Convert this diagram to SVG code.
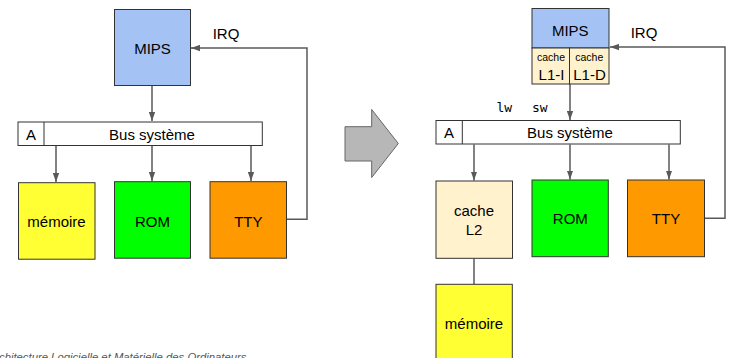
<svg xmlns="http://www.w3.org/2000/svg" width="730" height="358" viewBox="0 0 730 358">
<style>
.box{stroke:#333;stroke-width:1}
.t{font-family:"Liberation Sans",Arial,sans-serif;font-size:15px;fill:#000;text-anchor:middle}
.s{font-family:"Liberation Sans",Arial,sans-serif;font-size:10.5px;fill:#000;text-anchor:middle}
.m{font-family:"DejaVu Sans Mono",monospace;font-size:13px;fill:#000}
.c{fill:none;stroke:#595959;stroke-width:1.5}
.cpu{fill:#a4c2f4}.cache{fill:#fff2cc}.rom{fill:#00ff00}.tty{fill:#ff9900}.mem{fill:#ffff33}.bus{fill:#fff}
.foot{font-family:"Liberation Sans",Arial,sans-serif;font-size:11.3px;font-style:italic;fill:#555}
</style>
<defs>
<marker id="ah" viewBox="0 0 10 7" refX="10" refY="3.5" markerWidth="9" markerHeight="7" markerUnits="userSpaceOnUse" orient="auto">
<path d="M0,0 L10,3.5 L0,7 z" fill="#595959"/>
</marker>
</defs>
<g id="connectors">
<line class="c" x1="152" y1="86" x2="152" y2="121" marker-end="url(#ah)"/>
<line class="c" x1="56" y1="146" x2="56" y2="182" marker-end="url(#ah)"/>
<line class="c" x1="152" y1="146" x2="152" y2="181" marker-end="url(#ah)"/>
<line class="c" x1="251" y1="146" x2="251" y2="181" marker-end="url(#ah)"/>
<polyline class="c" points="287,219.3 307,219.3 307,48 191,48" marker-end="url(#ah)"/>
<line class="c" x1="570" y1="84" x2="570" y2="120" marker-end="url(#ah)"/>
<line class="c" x1="474" y1="144.5" x2="474" y2="180.5" marker-end="url(#ah)"/>
<line class="c" x1="570" y1="144.5" x2="570" y2="179.5" marker-end="url(#ah)"/>
<line class="c" x1="669" y1="144.5" x2="669" y2="179.5" marker-end="url(#ah)"/>
<polyline class="c" points="705,218.3 725,218.3 725,47 610,47" marker-end="url(#ah)"/>
<line class="c" x1="474" y1="258.5" x2="474" y2="284"/>
</g>
<g id="left-mips"><rect class="box cpu" x="114.5" y="9.5" width="76" height="76"/><text class="t" x="152.5" y="54.3">MIPS</text></g>
<g id="left-irq"><text class="t" x="226" y="39.3">IRQ</text></g>
<g id="left-bus"><rect class="box bus" x="18" y="122" width="244.3" height="23.5"/><line class="box" x1="44" y1="122" x2="44" y2="145.5"/><text class="t" x="31" y="140">A</text><text class="t" x="152" y="140">Bus système</text></g>
<g id="left-mem"><rect class="box mem" x="18.5" y="182.7" width="76.5" height="76.5"/><text class="t" x="56.5" y="226.7">mémoire</text></g>
<g id="left-rom"><rect class="box rom" x="114.5" y="181.7" width="76" height="76.5"/><text class="t" x="152.5" y="226.5">ROM</text></g>
<g id="left-tty"><rect class="box tty" x="210" y="181.7" width="76.5" height="76.5"/><text class="t" x="248.3" y="226.5">TTY</text></g>
<g id="big-arrow"><polygon points="345,126.7 371.7,126.7 371.7,109.5 398.3,143.5 371.7,177.5 371.7,161 345,161" fill="#b7b7b7" stroke="#666" stroke-width="1"/></g>
<g id="right-mips">
<rect class="box cpu" x="532" y="8.5" width="77" height="39.5"/>
<rect class="box cache" x="532" y="48" width="37.5" height="36"/>
<rect class="box cache" x="569.5" y="48" width="39.5" height="36"/>
<text class="t" x="570.3" y="35.5">MIPS</text>
<text class="s" x="551" y="61.3">cache</text><text class="s" x="589.3" y="61.3">cache</text>
<text class="t" x="551.5" y="80">L1-I</text><text class="t" x="589.5" y="80">L1-D</text>
</g>
<g id="right-irq"><text class="t" x="644" y="38">IRQ</text></g>
<g id="lwsw"><text class="m" x="496.5" y="111.5">lw</text><text class="m" x="532" y="111.5">sw</text></g>
<g id="right-bus"><rect class="box bus" x="436" y="120.5" width="244.3" height="23.5"/><line class="box" x1="462.3" y1="120.5" x2="462.3" y2="144"/><text class="t" x="449" y="138">A</text><text class="t" x="570" y="138">Bus système</text></g>
<g id="right-l2"><rect class="box cache" x="436" y="181" width="76.5" height="77.3"/><text class="t" x="474" y="216.3">cache</text><text class="t" x="474" y="235">L2</text></g>
<g id="right-rom"><rect class="box rom" x="532" y="180" width="76.3" height="76.7"/><text class="t" x="570.3" y="224.3">ROM</text></g>
<g id="right-tty"><rect class="box tty" x="627.5" y="180" width="77" height="76.7"/><text class="t" x="666" y="224.3">TTY</text></g>
<g id="right-mem"><rect class="box mem" x="436" y="284.3" width="76.3" height="77"/><text class="t" x="474" y="329.3">mémoire</text></g>
<text class="foot" x="-1" y="360.5">chitecture Logicielle et Matérielle des Ordinateurs</text>
</svg>
